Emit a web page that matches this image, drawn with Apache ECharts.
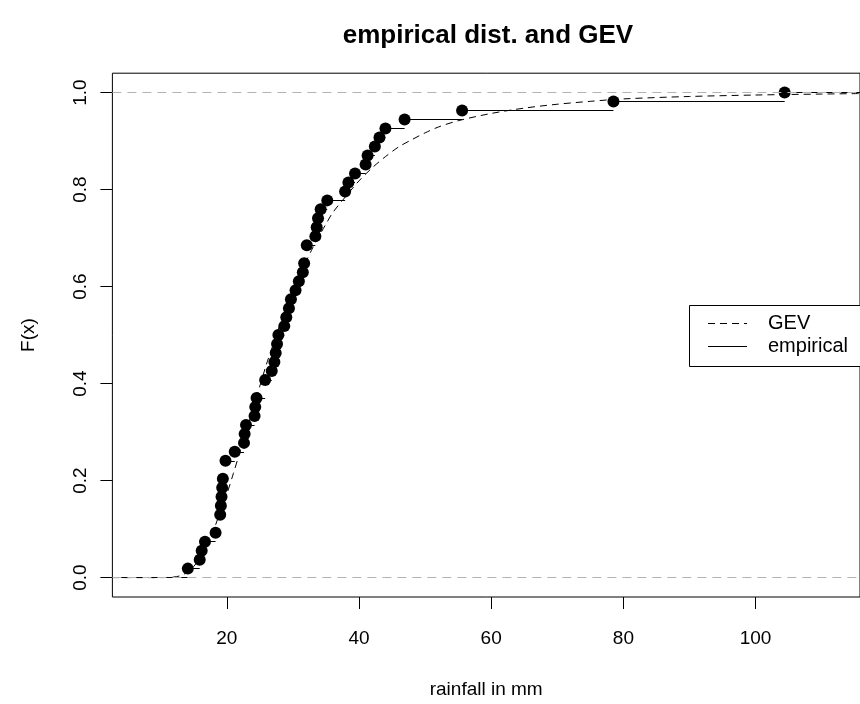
<!DOCTYPE html>
<html>
<head>
<meta charset="utf-8">
<script src="https://cdn.jsdelivr.net/npm/echarts@6/dist/echarts.min.js"></script>
<style>
  html, body { margin: 0; padding: 0; background: #fff; }
  #chart { width: 860px; height: 704px; }
</style>
</head>
<body>
<div id="chart"></div>
<script>
// Sorted rainfall maxima in mm (tied values repeated)
const rainfall = [
  14.1, 15.9, 16.2, 16.7, 18.3, 19.0, 19.0, 19.1, 19.2, 19.3,
  19.4, 19.8, 19.8, 21.2, 22.6, 22.7, 22.9, 24.2, 24.3, 24.5,
  25.8, 25.8, 26.8, 27.2, 27.4, 27.6, 27.8, 28.7, 29.0, 29.4,
  29.7, 30.4, 30.9, 31.5, 31.7, 32.1, 32.1, 33.4, 33.6, 33.8,
  34.2, 35.2, 37.9, 38.4, 39.4, 41.0, 41.3, 42.4, 43.1, 44.0,
  46.9, 55.6, 78.5, 104.4
];

// Fitted GEV distribution function, sampled along the rainfall axis
const gevX = [2.69, 8, 10, 11, 12, 13, 14, 15, 16, 17, 18, 19, 20, 21, 22, 23, 24, 25, 26, 27,
  28, 29, 30, 31, 32, 33, 34, 35, 36, 38, 40, 42, 44, 46, 48, 50, 52, 55, 60, 65, 70, 75, 80,
  90, 100, 110, 115.8];
const gevF = [0, 0, 0, 0.0003, 0.0012, 0.004, 0.011, 0.023, 0.042, 0.068, 0.098, 0.135, 0.172,
  0.215, 0.26, 0.305, 0.35, 0.395, 0.44, 0.48, 0.52, 0.555, 0.59, 0.622, 0.652, 0.68, 0.705,
  0.729, 0.752, 0.786, 0.818, 0.845, 0.868, 0.888, 0.903, 0.917, 0.929, 0.942, 0.957, 0.968,
  0.976, 0.982, 0.987, 0.992, 0.995, 0.997, 0.998];

const xTicks = [20, 40, 60, 80, 100];
const yTicks = [0, 0.2, 0.4, 0.6, 0.8, 1.0];
const refLevels = [0, 1];

const X_MIN = 2.69, X_MAX = 115.8;
const Y_MIN = -0.04, Y_MAX = 1.04;
const FONT = '"Liberation Sans", Arial, Helvetica, sans-serif';

// Empirical distribution: distinct jump points and their heights
const n = rainfall.length;
const knots = [], heights = [];
rainfall.forEach((v, i) => {
  if (knots.length && knots[knots.length - 1] === v) {
    heights[heights.length - 1] = (i + 1) / n;
  } else {
    knots.push(v);
    heights.push((i + 1) / n);
  }
});

// Horizontal steps of the ECDF
const steps = [{ coords: [[X_MIN, 0], [knots[0], 0]] }];
knots.forEach((k, i) => {
  const next = i + 1 < knots.length ? knots[i + 1] : X_MAX;
  steps.push({ coords: [[k, heights[i]], [next, heights[i]]] });
});

const points = knots.map((k, i) => [k, heights[i]]);
const gevLine = gevX.map((x, i) => [x, gevF[i]]);

const chart = echarts.init(document.getElementById('chart'));
chart.setOption({
  animation: false,
  backgroundColor: '#fff',
  title: {
    text: 'empirical dist. and GEV',
    left: 483,
    top: 18,
    textAlign: 'center',
    textStyle: { fontFamily: FONT, fontSize: 26, fontWeight: 'bold', color: '#000' }
  },
  grid: {
    left: 112.4, right: -4, top: 73.2, bottom: 105.2,
    show: true, borderColor: '#000', borderWidth: 1, backgroundColor: 'transparent'
  },
  xAxis: {
    type: 'value', min: X_MIN, max: X_MAX,
    name: 'rainfall in mm', nameLocation: 'middle', nameGap: 83,
    nameTextStyle: { fontFamily: FONT, fontSize: 19, color: '#000' },
    axisLine: { show: false, onZero: false },
    splitLine: { show: false },
    axisTick: { show: true, length: 12, customValues: xTicks, lineStyle: { color: '#000', width: 1 } },
    axisLabel: { customValues: xTicks, margin: 32, fontFamily: FONT, fontSize: 19, color: '#000' }
  },
  yAxis: {
    type: 'value', min: Y_MIN, max: Y_MAX,
    name: 'F(x)', nameLocation: 'middle', nameGap: 74,
    nameTextStyle: { fontFamily: FONT, fontSize: 19, color: '#000' },
    axisLine: { show: false, onZero: false },
    splitLine: { show: false },
    axisTick: { show: true, length: 12, customValues: yTicks, lineStyle: { color: '#000', width: 1 } },
    axisLabel: {
      customValues: yTicks, rotate: 90, margin: 22,
      formatter: v => v.toFixed(1),
      fontFamily: FONT, fontSize: 19, color: '#000'
    }
  },
  series: [
    {
      name: 'empirical',
      type: 'lines',
      coordinateSystem: 'cartesian2d',
      polyline: false,
      data: steps,
      lineStyle: { color: '#000', width: 1, opacity: 1 },
      z: 2,
      silent: true
    },
    {
      name: 'points',
      type: 'scatter',
      data: points,
      symbol: 'circle',
      symbolSize: 12,
      itemStyle: { color: '#000', opacity: 1 },
      z: 3,
      markLine: {
        silent: true,
        symbol: 'none',
        label: { show: false },
        lineStyle: { color: '#b3b3b3', type: [9, 6], width: 1 },
        data: refLevels.map(v => ({ yAxis: v }))
      }
    },
    {
      name: 'GEV',
      type: 'line',
      data: gevLine,
      showSymbol: false,
      smooth: 0.3,
      lineStyle: { color: '#000', width: 1, type: [7, 5] },
      z: 4,
      silent: true
    }
  ],
  graphic: [
    {
      type: 'rect', z: 10,
      shape: { x: 689.5, y: 305.5, width: 180, height: 61 },
      style: { fill: '#fff', stroke: '#000', lineWidth: 1 }
    },
    {
      type: 'line', z: 11,
      shape: { x1: 708, y1: 323.5, x2: 747, y2: 323.5 },
      style: { stroke: '#000', lineWidth: 1, lineDash: [7, 5] }
    },
    {
      type: 'line', z: 11,
      shape: { x1: 708, y1: 346.5, x2: 747, y2: 346.5 },
      style: { stroke: '#000', lineWidth: 1 }
    },
    {
      type: 'text', z: 11, x: 768, y: 323.5,
      style: { text: 'GEV', font: '20px ' + FONT, fill: '#000', textVerticalAlign: 'middle' }
    },
    {
      type: 'text', z: 11, x: 768, y: 346.5,
      style: { text: 'empirical', font: '20px ' + FONT, fill: '#000', textVerticalAlign: 'middle' }
    }
  ]
});
</script>
</body>
</html>
